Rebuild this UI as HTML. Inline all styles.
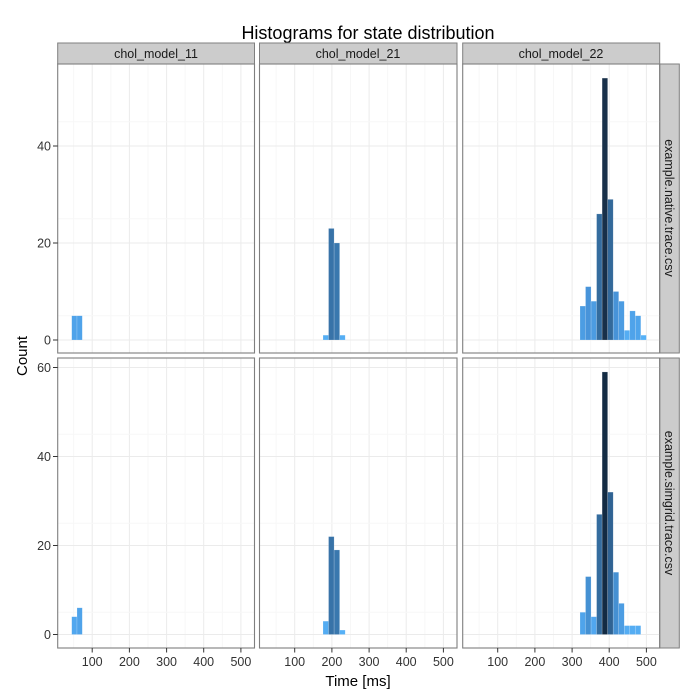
<!DOCTYPE html>
<html><head><meta charset="utf-8"><style>
html,body{margin:0;padding:0;background:#fff}
svg{display:block;font-family:"Liberation Sans",sans-serif}
</style></head><body>
<svg width="700" height="700" viewBox="0 0 700 700" xmlns="http://www.w3.org/2000/svg">
<defs>
<g id="vgrid">
 <g stroke="#f7f7f7" stroke-width="1">
  <line x1="15.9" x2="15.9" y1="0" y2="300"/><line x1="53.1" x2="53.1" y1="0" y2="300"/>
  <line x1="90.3" x2="90.3" y1="0" y2="300"/><line x1="127.4" x2="127.4" y1="0" y2="300"/>
  <line x1="164.6" x2="164.6" y1="0" y2="300"/>
 </g>
 <g stroke="#ebebeb" stroke-width="1">
  <line x1="34.5" x2="34.5" y1="0" y2="300"/><line x1="71.7" x2="71.7" y1="0" y2="300"/>
  <line x1="108.9" x2="108.9" y1="0" y2="300"/><line x1="146" x2="146" y1="0" y2="300"/>
  <line x1="183.2" x2="183.2" y1="0" y2="300"/>
 </g>
</g>
</defs>
<rect width="700" height="700" fill="#fff"/>
<text x="368" y="39" font-size="18" text-anchor="middle" fill="#000">Histograms for state distribution</text>

<!-- strips top -->
<g font-size="12.5" text-anchor="middle" fill="#1a1a1a">
<rect x="57.7" y="43" width="196.8" height="21" fill="#cccccc" stroke="#7f7f7f"/>
<text x="156" y="58">chol_model_11</text>
<rect x="259.5" y="43" width="197.5" height="21" fill="#cccccc" stroke="#7f7f7f"/>
<text x="358" y="58">chol_model_21</text>
<rect x="462.7" y="43" width="197" height="21" fill="#cccccc" stroke="#7f7f7f"/>
<text x="561" y="58">chol_model_22</text>
<rect x="659.7" y="64" width="19.6" height="289" fill="#cccccc" stroke="#7f7f7f"/>
<text transform="translate(665,208) rotate(90)">example.native.trace.csv</text>
<rect x="659.7" y="358" width="19.6" height="290" fill="#cccccc" stroke="#7f7f7f"/>
<text transform="translate(665,503) rotate(90)">example.simgrid.trace.csv</text>
</g>

<!-- panels: top row -->
<g id="toprow">
<!-- panel 1 top -->
<g transform="translate(57.7,64)">
 <svg width="196.8" height="289" overflow="hidden">
 <use href="#vgrid"/>
 <g stroke="#f7f7f7"><line x1="0" x2="197" y1="251.75" y2="251.75"/><line x1="0" x2="197" y1="154.75" y2="154.75"/><line x1="0" x2="197" y1="57.75" y2="57.75"/></g>
 <g stroke="#ebebeb"><line x1="0" x2="197" y1="276" y2="276"/><line x1="0" x2="197" y1="179" y2="179"/><line x1="0" x2="197" y1="82" y2="82"/></g>
 <g stroke="rgba(255,255,255,0.35)" stroke-width="0.5">
 <rect x="14" y="251.75" width="5.3" height="24.25" fill="#4FA3EA"/>
 <rect x="19.3" y="251.75" width="5.3" height="24.25" fill="#4FA3EA"/>
 </g>
 </svg>
</g>
<!-- panel 2 top -->
<g transform="translate(259.5,64)">
 <svg width="197.5" height="289" overflow="hidden">
 <use href="#vgrid" transform="translate(0.7,0)"/>
 <g stroke="#f7f7f7"><line x1="0" x2="198" y1="251.75" y2="251.75"/><line x1="0" x2="198" y1="154.75" y2="154.75"/><line x1="0" x2="198" y1="57.75" y2="57.75"/></g>
 <g stroke="#ebebeb"><line x1="0" x2="198" y1="276" y2="276"/><line x1="0" x2="198" y1="179" y2="179"/><line x1="0" x2="198" y1="82" y2="82"/></g>
 <g stroke="rgba(255,255,255,0.35)" stroke-width="0.5">
 <rect x="63.5" y="271.15" width="5.55" height="4.85" fill="#55AEF4"/>
 <rect x="69.05" y="164.45" width="5.55" height="111.55" fill="#3873A8"/>
 <rect x="74.6" y="179" width="5.55" height="97" fill="#3A78AE"/>
 <rect x="80.15" y="271.15" width="5.55" height="4.85" fill="#55AEF4"/>
 </g>
 </svg>
</g>
<!-- panel 3 top -->
<g transform="translate(462.7,64)">
 <svg width="197" height="289" overflow="hidden">
 <use href="#vgrid" transform="translate(0.5,0)"/>
 <g stroke="#f7f7f7"><line x1="0" x2="198" y1="251.75" y2="251.75"/><line x1="0" x2="198" y1="154.75" y2="154.75"/><line x1="0" x2="198" y1="57.75" y2="57.75"/></g>
 <g stroke="#ebebeb"><line x1="0" x2="198" y1="276" y2="276"/><line x1="0" x2="198" y1="179" y2="179"/><line x1="0" x2="198" y1="82" y2="82"/></g>
 <g stroke="rgba(255,255,255,0.35)" stroke-width="0.5">
 <rect x="117.3" y="242.05" width="5.53" height="33.95" fill="#4C9DE3"/>
 <rect x="122.83" y="222.65" width="5.53" height="53.35" fill="#4894DA"/>
 <rect x="128.36" y="237.2" width="5.53" height="38.8" fill="#4C9CE2"/>
 <rect x="133.89" y="149.9" width="5.53" height="126.1" fill="#346C9E"/>
 <rect x="139.42" y="14.1" width="5.53" height="261.9" fill="#183049"/>
 <rect x="144.95" y="135.35" width="5.53" height="140.65" fill="#33699A"/>
 <rect x="150.48" y="227.5" width="5.53" height="48.5" fill="#4793D8"/>
 <rect x="156.01" y="237.2" width="5.53" height="38.8" fill="#4C9CE2"/>
 <rect x="161.54" y="266.3" width="5.53" height="9.7" fill="#55ADF3"/>
 <rect x="167.07" y="246.9" width="5.53" height="29.1" fill="#4FA3EA"/>
 <rect x="172.6" y="251.75" width="5.53" height="24.25" fill="#4FA4EB"/>
 <rect x="178.13" y="271.15" width="5.53" height="4.85" fill="#56B1F7"/>
 </g>
 </svg>
</g>
</g>

<!-- bottom row -->
<g transform="translate(57.7,358)">
 <svg width="196.8" height="290" overflow="hidden">
 <use href="#vgrid"/>
 <g stroke="#f7f7f7"><line x1="0" x2="197" y1="254.25" y2="254.25"/><line x1="0" x2="197" y1="165.25" y2="165.25"/><line x1="0" x2="197" y1="76.25" y2="76.25"/></g>
 <g stroke="#ebebeb"><line x1="0" x2="197" y1="276.5" y2="276.5"/><line x1="0" x2="197" y1="187.5" y2="187.5"/><line x1="0" x2="197" y1="98.5" y2="98.5"/><line x1="0" x2="197" y1="9.5" y2="9.5"/></g>
 <g stroke="rgba(255,255,255,0.35)" stroke-width="0.5">
 <rect x="14" y="258.7" width="5.3" height="17.8" fill="#51A7EF"/>
 <rect x="19.3" y="249.8" width="5.3" height="26.7" fill="#4FA3EA"/>
 </g>
 </svg>
</g>
<g transform="translate(259.5,358)">
 <svg width="197.5" height="290" overflow="hidden">
 <use href="#vgrid" transform="translate(0.7,0)"/>
 <g stroke="#f7f7f7"><line x1="0" x2="198" y1="254.25" y2="254.25"/><line x1="0" x2="198" y1="165.25" y2="165.25"/><line x1="0" x2="198" y1="76.25" y2="76.25"/></g>
 <g stroke="#ebebeb"><line x1="0" x2="198" y1="276.5" y2="276.5"/><line x1="0" x2="198" y1="187.5" y2="187.5"/><line x1="0" x2="198" y1="98.5" y2="98.5"/><line x1="0" x2="198" y1="9.5" y2="9.5"/></g>
 <g stroke="rgba(255,255,255,0.35)" stroke-width="0.5">
 <rect x="63.5" y="263.15" width="5.55" height="13.35" fill="#54ACF2"/>
 <rect x="69.05" y="178.6" width="5.55" height="97.9" fill="#3873A8"/>
 <rect x="74.6" y="191.95" width="5.55" height="84.55" fill="#3A78AE"/>
 <rect x="80.15" y="272.05" width="5.55" height="4.45" fill="#56B1F7"/>
 </g>
 </svg>
</g>
<g transform="translate(462.7,358)">
 <svg width="197" height="290" overflow="hidden">
 <use href="#vgrid" transform="translate(0.5,0)"/>
 <g stroke="#f7f7f7"><line x1="0" x2="198" y1="254.25" y2="254.25"/><line x1="0" x2="198" y1="165.25" y2="165.25"/><line x1="0" x2="198" y1="76.25" y2="76.25"/></g>
 <g stroke="#ebebeb"><line x1="0" x2="198" y1="276.5" y2="276.5"/><line x1="0" x2="198" y1="187.5" y2="187.5"/><line x1="0" x2="198" y1="98.5" y2="98.5"/><line x1="0" x2="198" y1="9.5" y2="9.5"/></g>
 <g stroke="rgba(255,255,255,0.35)" stroke-width="0.5">
 <rect x="117.3" y="254.25" width="5.53" height="22.25" fill="#4FA4EB"/>
 <rect x="122.83" y="218.6" width="5.53" height="57.9" fill="#4591D3"/>
 <rect x="128.36" y="258.7" width="5.53" height="17.8" fill="#51A7EF"/>
 <rect x="133.89" y="156.35" width="5.53" height="120.15" fill="#346C9E"/>
 <rect x="139.42" y="13.95" width="5.53" height="262.55" fill="#132B43"/>
 <rect x="144.95" y="134.1" width="5.53" height="142.4" fill="#306393"/>
 <rect x="150.48" y="214.2" width="5.53" height="62.3" fill="#4590D2"/>
 <rect x="156.01" y="245.35" width="5.53" height="31.15" fill="#4C9DE3"/>
 <rect x="161.54" y="267.6" width="5.53" height="8.9" fill="#55ADF3"/>
 <rect x="167.07" y="267.6" width="5.53" height="8.9" fill="#55ADF3"/>
 <rect x="172.6" y="267.6" width="5.53" height="8.9" fill="#55ADF3"/>
 </g>
 </svg>
</g>

<!-- panel borders -->
<g fill="none" stroke="#7f7f7f" stroke-width="1.1">
<rect x="57.7" y="64" width="196.8" height="289"/>
<rect x="259.5" y="64" width="197.5" height="289"/>
<rect x="462.7" y="64" width="197" height="289"/>
<rect x="57.7" y="358" width="196.8" height="290"/>
<rect x="259.5" y="358" width="197.5" height="290"/>
<rect x="462.7" y="358" width="197" height="290"/>
</g>

<!-- y axis ticks -->
<g stroke="#333" stroke-width="1">
<line x1="53" x2="57.7" y1="340" y2="340"/><line x1="53" x2="57.7" y1="243" y2="243"/><line x1="53" x2="57.7" y1="146" y2="146"/>
<line x1="53" x2="57.7" y1="634.5" y2="634.5"/><line x1="53" x2="57.7" y1="545.5" y2="545.5"/><line x1="53" x2="57.7" y1="456.5" y2="456.5"/><line x1="53" x2="57.7" y1="367.5" y2="367.5"/>
</g>
<g font-size="12.5" text-anchor="end" fill="#333">
<text x="51" y="344.5">0</text><text x="51" y="247.5">20</text><text x="51" y="150.5">40</text>
<text x="51" y="639">0</text><text x="51" y="550">20</text><text x="51" y="461">40</text><text x="51" y="372">60</text>
</g>

<!-- x axis ticks -->
<g stroke="#333" stroke-width="1">
<line x1="92.2" x2="92.2" y1="648" y2="652.5"/><line x1="129.4" x2="129.4" y1="648" y2="652.5"/><line x1="166.6" x2="166.6" y1="648" y2="652.5"/><line x1="203.7" x2="203.7" y1="648" y2="652.5"/><line x1="240.9" x2="240.9" y1="648" y2="652.5"/>
<line x1="294.7" x2="294.7" y1="648" y2="652.5"/><line x1="331.9" x2="331.9" y1="648" y2="652.5"/><line x1="369.1" x2="369.1" y1="648" y2="652.5"/><line x1="406.2" x2="406.2" y1="648" y2="652.5"/><line x1="443.4" x2="443.4" y1="648" y2="652.5"/>
<line x1="497.7" x2="497.7" y1="648" y2="652.5"/><line x1="534.9" x2="534.9" y1="648" y2="652.5"/><line x1="572.1" x2="572.1" y1="648" y2="652.5"/><line x1="609.2" x2="609.2" y1="648" y2="652.5"/><line x1="646.4" x2="646.4" y1="648" y2="652.5"/>
</g>
<g font-size="12.5" text-anchor="middle" fill="#333">
<text x="92.2" y="666">100</text><text x="129.4" y="666">200</text><text x="166.6" y="666">300</text><text x="203.7" y="666">400</text><text x="240.9" y="666">500</text>
<text x="294.7" y="666">100</text><text x="331.9" y="666">200</text><text x="369.1" y="666">300</text><text x="406.2" y="666">400</text><text x="443.4" y="666">500</text>
<text x="497.7" y="666">100</text><text x="534.9" y="666">200</text><text x="572.1" y="666">300</text><text x="609.2" y="666">400</text><text x="646.4" y="666">500</text>
</g>

<text x="358" y="686" font-size="15" text-anchor="middle" fill="#000">Time [ms]</text>
<text transform="translate(27,356) rotate(-90)" font-size="15" text-anchor="middle" fill="#000">Count</text>
</svg>
</body></html>
